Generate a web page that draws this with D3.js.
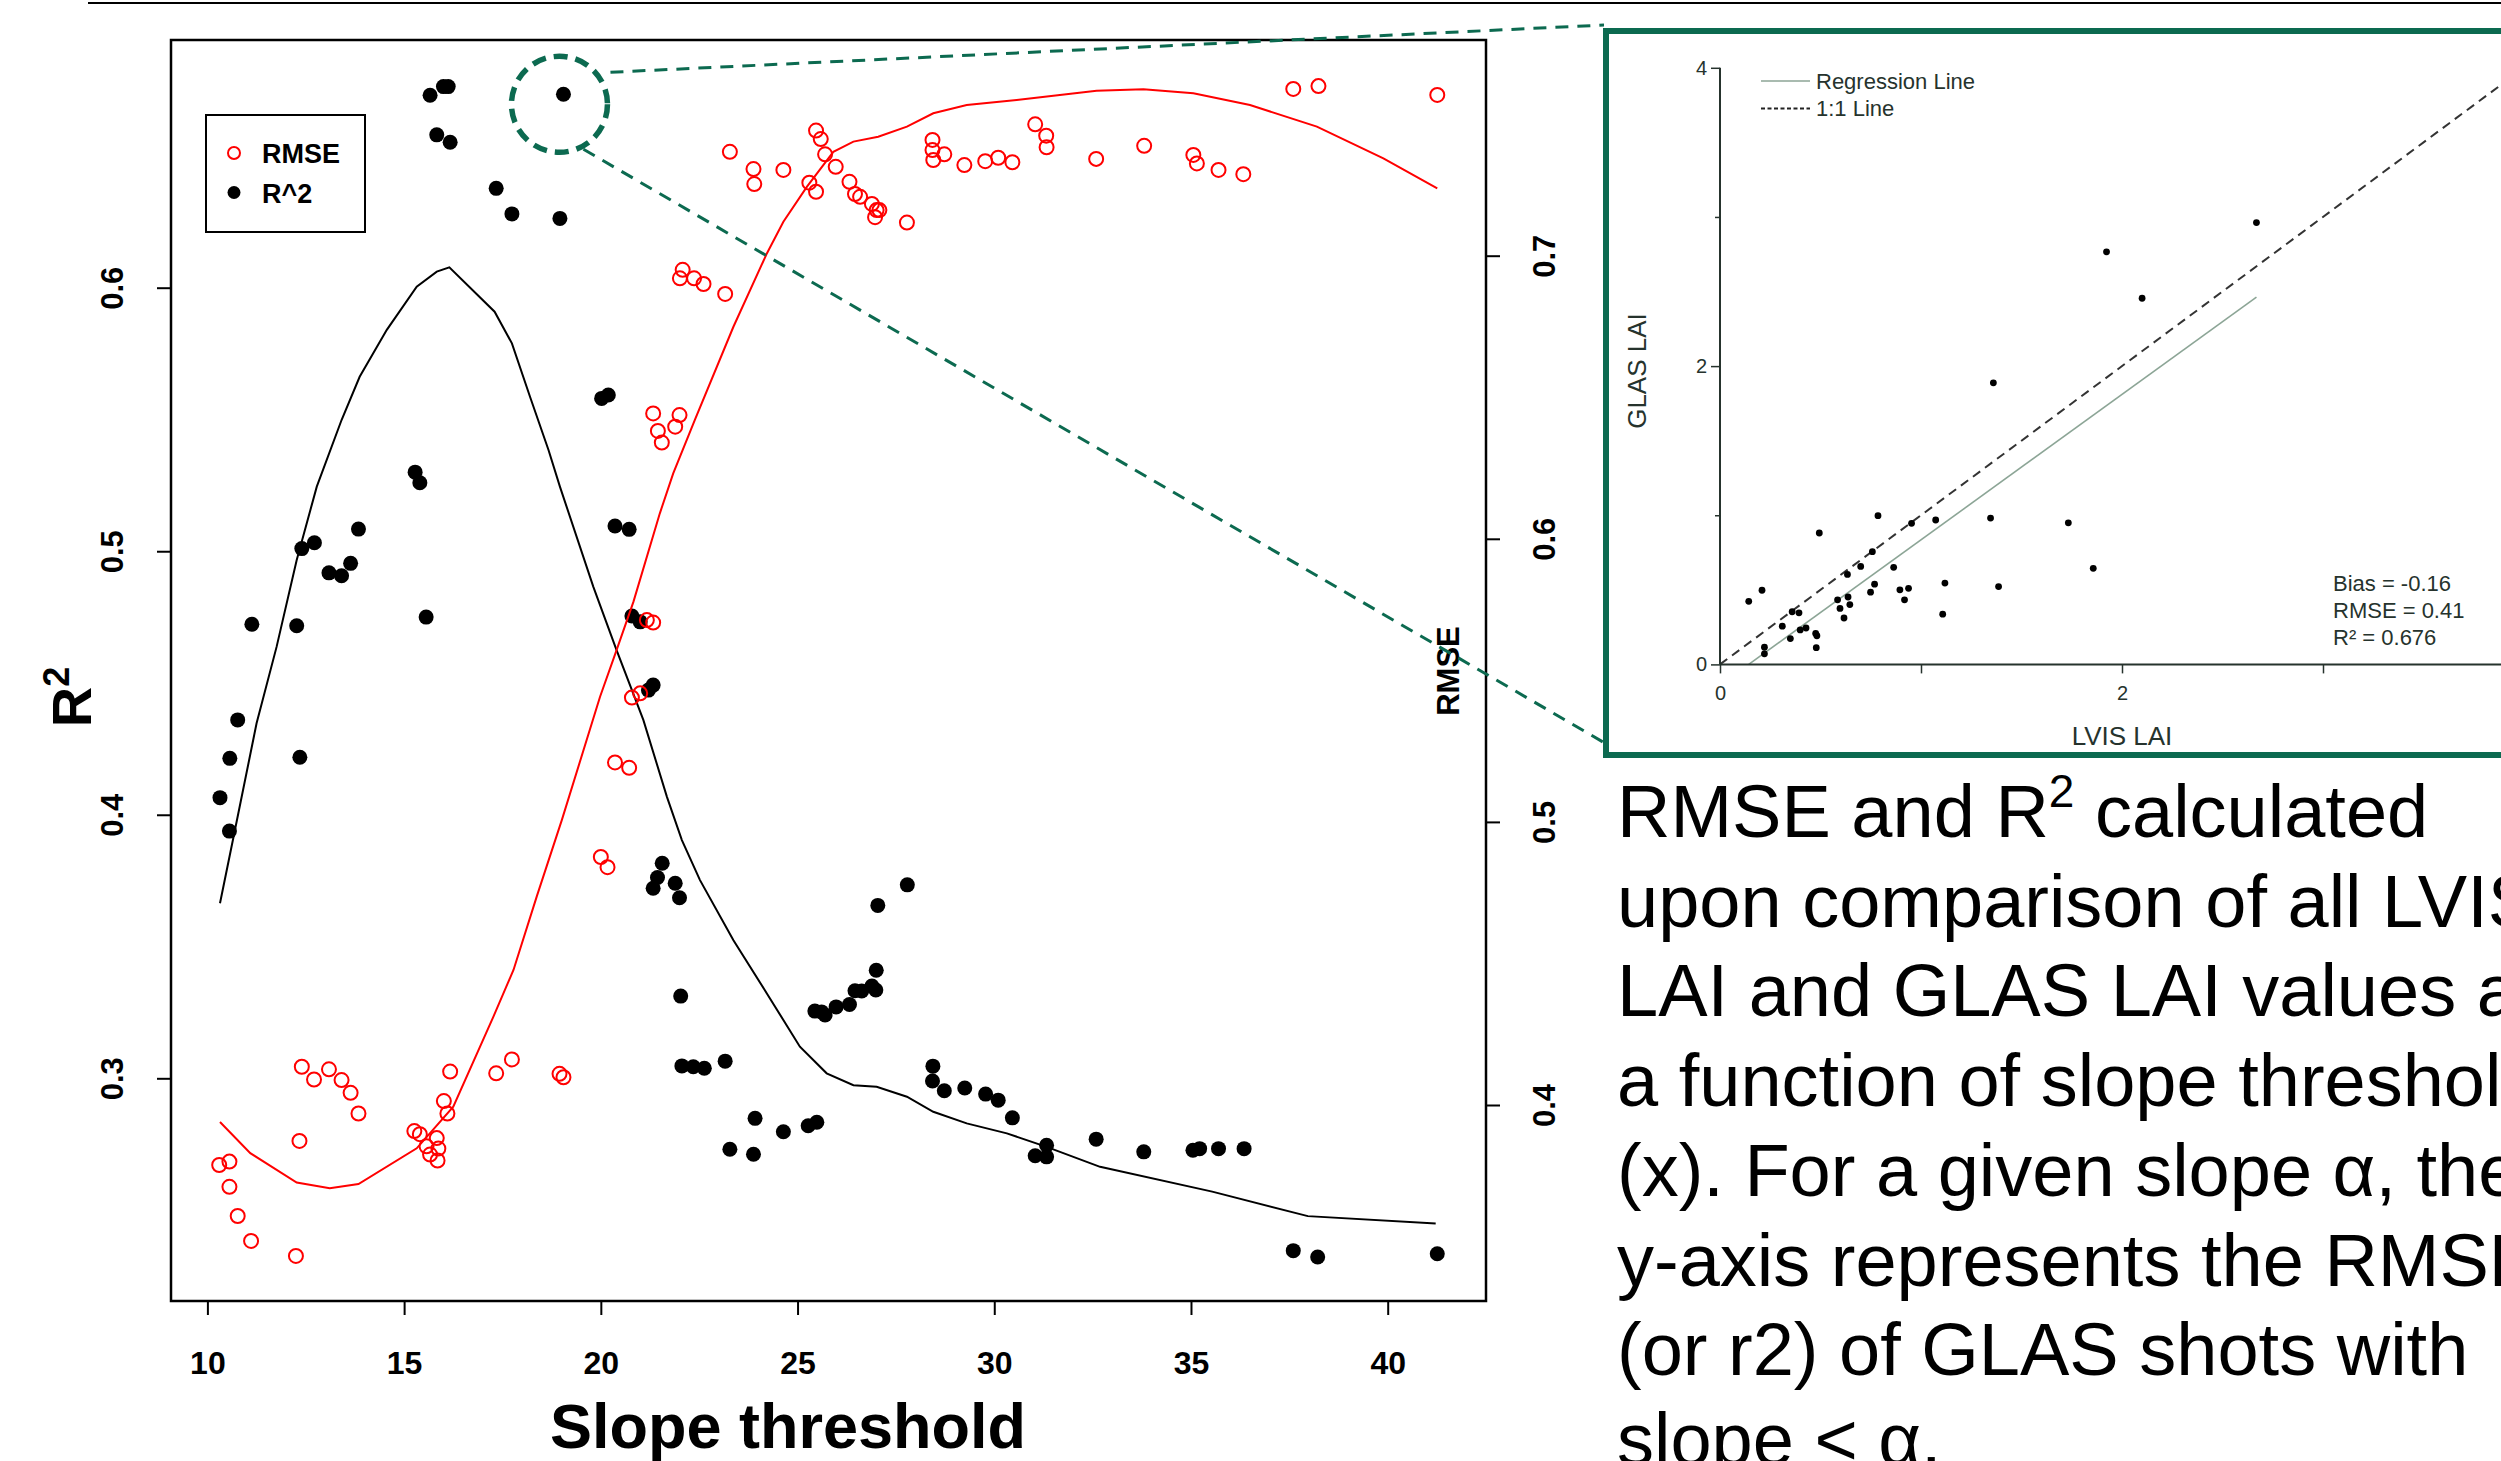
<!DOCTYPE html>
<html>
<head>
<meta charset="utf-8">
<script src="https://cdn.jsdelivr.net/npm/d3@7"></script>
<style>
  body { margin: 0; background: #fff; }
  svg { display: block; }
</style>
</head>
<body>
<svg id="chart"></svg>
<script>
// ---- data ----
const r2Points = [
  [10.32, 0.4065], [10.56, 0.3938], [10.57, 0.4214], [10.77, 0.436], [11.13, 0.4723],
  [12.27, 0.4717], [12.35, 0.4218], [12.40, 0.501], [12.72, 0.5032], [13.09, 0.4918],
  [13.41, 0.4907], [13.64, 0.4954], [13.84, 0.5084], [15.28, 0.530], [15.40, 0.526],
  [15.56, 0.475], [15.66, 0.673], [15.83, 0.658], [16.0, 0.6763], [16.12, 0.6763],
  [16.17, 0.6552], [17.34, 0.6377], [17.74, 0.628], [18.96, 0.6263], [19.05, 0.6734],
  [20.02, 0.558], [20.19, 0.5593], [20.36, 0.5096], [20.72, 0.5083], [20.79, 0.4754],
  [21.0, 0.4732], [21.21, 0.4473], [21.33, 0.4492], [21.33, 0.3721], [21.44, 0.3762],
  [21.56, 0.3816], [21.89, 0.374], [22.0, 0.3685], [22.03, 0.3312], [22.06, 0.3047],
  [22.35, 0.3044], [22.63, 0.3038], [23.16, 0.3065], [23.28, 0.2731], [23.88, 0.2712],
  [23.92, 0.2848], [24.64, 0.2797], [25.27, 0.282], [25.49, 0.2833], [25.44, 0.3255],
  [25.61, 0.3252], [25.7, 0.324], [25.98, 0.3271], [26.32, 0.328], [26.46, 0.3332],
  [26.63, 0.3331], [26.89, 0.335], [26.99, 0.3335], [27.0, 0.341], [27.04, 0.3656],
  [27.79, 0.3734], [28.44, 0.3046], [28.43, 0.299], [28.73, 0.2953], [29.25, 0.2963],
  [29.78, 0.294], [30.1, 0.2917], [30.46, 0.285], [31.04, 0.2706], [31.33, 0.2702],
  [31.33, 0.2746], [32.59, 0.2769], [33.8, 0.2721], [35.05, 0.2727], [35.22, 0.2733],
  [35.7, 0.2733], [36.35, 0.2733], [37.6, 0.2346], [38.22, 0.2322], [41.26, 0.2334]
];

const rmsePoints = [
  [10.30, 0.3788], [10.56, 0.380], [10.56, 0.3711], [10.77, 0.3608], [11.11, 0.352],
  [12.25, 0.3467], [12.34, 0.3873], [12.40, 0.4135], [12.71, 0.409], [13.09, 0.4126],
  [13.41, 0.4088], [13.64, 0.4043], [13.84, 0.397], [15.26, 0.3908], [15.40, 0.3897],
  [15.57, 0.3854], [15.66, 0.3825], [15.83, 0.3883], [15.85, 0.3804], [15.87, 0.3846],
  [16.01, 0.4014], [16.10, 0.397], [16.17, 0.4118], [17.34, 0.4112], [17.74, 0.4161],
  [18.95, 0.411], [19.05, 0.4098], [20.0, 0.4876], [20.17, 0.484], [20.36, 0.521],
  [20.72, 0.5191], [20.79, 0.5439], [21.0, 0.5454], [21.17, 0.5713], [21.33, 0.5704],
  [21.33, 0.6443], [21.45, 0.6381], [21.55, 0.634], [21.89, 0.6396], [22.0, 0.6437],
  [22.01, 0.692], [22.08, 0.695], [22.37, 0.692], [22.61, 0.690], [23.16, 0.6865],
  [23.28, 0.7367], [23.88, 0.7306], [23.9, 0.7253], [24.64, 0.7303], [25.3, 0.7258],
  [25.47, 0.7442], [25.47, 0.7226], [25.59, 0.7412], [25.7, 0.7358], [25.97, 0.7314],
  [26.32, 0.7261], [26.46, 0.7218], [26.59, 0.7208], [26.89, 0.7183], [26.97, 0.7136],
  [27.01, 0.7161], [27.08, 0.7161], [27.78, 0.7117], [28.43, 0.7409], [28.43, 0.7373],
  [28.45, 0.7338], [28.73, 0.7358], [29.24, 0.732], [29.77, 0.7334], [30.1, 0.7346],
  [30.46, 0.733], [31.04, 0.7464], [31.32, 0.7424], [31.33, 0.7383], [32.59, 0.7342],
  [33.81, 0.7388], [35.06, 0.7356], [35.15, 0.7326], [35.7, 0.7303], [36.33, 0.7288],
  [37.6, 0.7589], [38.24, 0.7599], [41.26, 0.7568]
];

const r2Curve = [
  [10.32, 0.3664], [10.7, 0.3942], [11.25, 0.4347], [11.76, 0.4638], [12.27, 0.4967],
  [12.78, 0.5245], [13.41, 0.5498], [13.87, 0.5662], [14.56, 0.584], [15.32, 0.6004],
  [15.83, 0.6061], [16.15, 0.6077], [17.3, 0.5909], [17.74, 0.5789], [18.2, 0.5586],
  [18.67, 0.5384], [18.96, 0.5245], [19.81, 0.4865], [20.4, 0.4625], [21.08, 0.436],
  [21.68, 0.4068], [22.06, 0.3904], [22.52, 0.3752], [23.37, 0.3524], [24.22, 0.3322],
  [25.06, 0.312], [25.74, 0.3019], [26.42, 0.2974], [27.01, 0.2968], [27.78, 0.293],
  [28.45, 0.2873], [29.3, 0.2829], [30.32, 0.2791], [31.33, 0.274], [32.69, 0.2664],
  [35.54, 0.257], [37.97, 0.2477], [41.22, 0.2449]
];

const rmseCurve = [
  [10.32, 0.394], [11.09, 0.383], [12.27, 0.3726], [13.11, 0.3706], [13.84, 0.3721],
  [15.32, 0.3847], [16.25, 0.3994], [17.27, 0.4312], [17.78, 0.4477], [18.37, 0.4736],
  [19.01, 0.5007], [19.98, 0.5442], [20.4, 0.5607], [20.83, 0.5778], [21.5, 0.609],
  [21.84, 0.6231], [22.39, 0.642], [23.37, 0.6749], [24.22, 0.7008], [24.64, 0.712],
  [25.24, 0.7244], [25.91, 0.7367], [26.42, 0.7403], [27.05, 0.742], [27.78, 0.7456],
  [28.45, 0.7503], [29.3, 0.7532], [30.57, 0.755], [32.6, 0.7583], [33.79, 0.7588],
  [35.06, 0.7574], [36.5, 0.7532], [38.2, 0.7456], [39.89, 0.7344], [41.26, 0.7238]
];

const xTicks = [10, 15, 20, 25, 30, 35, 40];
const r2Ticks = [0.3, 0.4, 0.5, 0.6];
const rmseTicks = [0.4, 0.5, 0.6, 0.7];
const legendItems = ["RMSE", "R^2"];
const highlighted = [19.05, 0.6734];

// inset: LVIS LAI vs GLAS LAI
const insetPoints = [
  [2.669, 2.962], [1.923, 2.766], [2.100, 2.455], [1.360, 1.888], [0.786, 0.997],
  [0.494, 0.881], [0.953, 0.946], [1.073, 0.968], [1.346, 0.981], [1.733, 0.949],
  [1.857, 0.644], [0.758, 0.756], [0.700, 0.657], [0.864, 0.651], [0.634, 0.603],
  [0.769, 0.538], [0.749, 0.484], [0.895, 0.500], [0.938, 0.510], [0.918, 0.433],
  [1.119, 0.545], [1.386, 0.522], [1.108, 0.337], [0.209, 0.497], [0.143, 0.423],
  [0.585, 0.433], [0.637, 0.452], [0.646, 0.401], [0.597, 0.375], [0.617, 0.311],
  [0.359, 0.353], [0.393, 0.346], [0.310, 0.256], [0.399, 0.231], [0.428, 0.244],
  [0.476, 0.208], [0.482, 0.192], [0.350, 0.173], [0.479, 0.112], [0.221, 0.115],
  [0.221, 0.071]
];
const regressionLine = [[0.143, 0], [2.669, 2.462]];
const oneToOne = [[0, 0], [4, 4]];
const insetXTicks = [0, 1, 2, 3];
const insetYTicks = [0, 1, 2, 3, 4];
const insetStats = ["Bias = -0.16", "RMSE = 0.41", "R² = 0.676"];
const insetLegend = ["Regression Line", "1:1 Line"];

const captionLines = [
  "RMSE and R",
  "upon comparison of all LVIS",
  "LAI and GLAS LAI values as",
  "a function of slope threshold",
  "(x). For a given slope α, the",
  "y-axis represents the RMSE",
  "(or r2) of GLAS shots with",
  "slope < α."
];

// ---- layout ----
const W = 2501, H = 1461;
const FONT = "'Liberation Sans', Arial, Helvetica, sans-serif";
const GREEN = "#0c6a50";
const plot = { left: 171, top: 40, right: 1486, bottom: 1301 };

const svg = d3.select("#chart")
  .attr("width", W)
  .attr("height", H)
  .style("font-family", FONT);

svg.append("rect").attr("width", W).attr("height", H).attr("fill", "#fff");

// thin rule at the very top
svg.append("line")
  .attr("x1", 88).attr("x2", W).attr("y1", 3).attr("y2", 3)
  .attr("stroke", "#000").attr("stroke-width", 2);

const x = d3.scaleLinear().domain([10, 40]).range([207.4, 1387.7]);
const yR2 = d3.scaleLinear().domain([0.3, 0.6]).range([1078.3, 287.7]);
const yRmse = d3.scaleLinear().domain([0.4, 0.7]).range([1105, 255.7]);

// R^2 points + smooth
svg.append("g").selectAll("circle")
  .data(r2Points)
  .enter().append("circle")
  .attr("cx", d => x(d[0]))
  .attr("cy", d => yR2(d[1]))
  .attr("r", 7.5)
  .attr("fill", "#000");

svg.append("path")
  .datum(r2Curve)
  .attr("d", d3.line().x(d => x(d[0])).y(d => yR2(d[1])))
  .attr("fill", "none")
  .attr("stroke", "#000")
  .attr("stroke-width", 2);

// RMSE points + smooth
svg.append("g").selectAll("circle")
  .data(rmsePoints)
  .enter().append("circle")
  .attr("cx", d => x(d[0]))
  .attr("cy", d => yRmse(d[1]))
  .attr("r", 7)
  .attr("fill", "none")
  .attr("stroke", "#ff0000")
  .attr("stroke-width", 2);

svg.append("path")
  .datum(rmseCurve)
  .attr("d", d3.line().x(d => x(d[0])).y(d => yRmse(d[1])))
  .attr("fill", "none")
  .attr("stroke", "#ff0000")
  .attr("stroke-width", 2);

// plot box
svg.append("rect")
  .attr("x", plot.left).attr("y", plot.top)
  .attr("width", plot.right - plot.left)
  .attr("height", plot.bottom - plot.top)
  .attr("fill", "none")
  .attr("stroke", "#000")
  .attr("stroke-width", 2.5);

// axes
function styleAxis(g, size) {
  g.attr("font-family", FONT).attr("font-size", size).attr("font-weight", "bold");
  g.select(".domain").remove();
  g.selectAll(".tick line").attr("stroke-width", 2);
  g.selectAll(".tick text").attr("fill", "#000");
}

const gx = svg.append("g")
  .attr("transform", `translate(0,${plot.bottom})`)
  .call(d3.axisBottom(x).tickValues(xTicks).tickSize(14).tickPadding(36));
styleAxis(gx, 32);

const gl = svg.append("g")
  .attr("transform", `translate(${plot.left},0)`)
  .call(d3.axisLeft(yR2).tickValues(r2Ticks).tickSize(14).tickFormat(d3.format(".1f")));
styleAxis(gl, 31);
gl.selectAll(".tick text")
  .attr("x", 0).attr("y", -59).attr("dy", "0.35em")
  .attr("transform", "rotate(-90)")
  .attr("text-anchor", "middle");

const gr = svg.append("g")
  .attr("transform", `translate(${plot.right},0)`)
  .call(d3.axisRight(yRmse).tickValues(rmseTicks).tickSize(14).tickFormat(d3.format(".1f")));
styleAxis(gr, 31);
gr.selectAll(".tick text")
  .attr("x", 0).attr("y", 58).attr("dy", "0.35em")
  .attr("transform", "rotate(-90)")
  .attr("text-anchor", "middle");

// axis titles
svg.append("text")
  .attr("x", 788).attr("y", 1448)
  .attr("text-anchor", "middle")
  .attr("font-size", 63).attr("font-weight", "bold")
  .text("Slope threshold");

const r2Title = svg.append("text")
  .attr("transform", "translate(91,697) rotate(-90)")
  .attr("text-anchor", "middle")
  .attr("font-size", 56).attr("font-weight", "bold");
r2Title.append("tspan").text("R");
r2Title.append("tspan").attr("font-size", 36).attr("dy", -22).text("2");

svg.append("text")
  .attr("transform", "translate(1459,671) rotate(-90)")
  .attr("text-anchor", "middle")
  .attr("font-size", 31).attr("font-weight", "bold")
  .text("RMSE");

// legend
const leg = svg.append("g");
leg.append("rect")
  .attr("x", 206).attr("y", 115).attr("width", 159).attr("height", 117)
  .attr("fill", "#fff").attr("stroke", "#000").attr("stroke-width", 2);
leg.selectAll("circle")
  .data(legendItems)
  .enter().append("circle")
  .attr("cx", 234)
  .attr("cy", (d, i) => 153 + i * 39.5)
  .attr("r", (d, i) => i === 0 ? 6 : 6.5)
  .attr("fill", (d, i) => i === 0 ? "none" : "#000")
  .attr("stroke", (d, i) => i === 0 ? "#ff0000" : "none")
  .attr("stroke-width", 2);
leg.selectAll("text")
  .data(legendItems)
  .enter().append("text")
  .attr("x", 262)
  .attr("y", (d, i) => 163 + i * 39.5)
  .attr("font-size", 27).attr("font-weight", "bold")
  .text(d => d);

// green highlight and connectors
const hx = x(highlighted[0]) - 4, hy = yR2(highlighted[1]) + 10;
svg.append("circle")
  .attr("cx", hx).attr("cy", hy).attr("r", 48)
  .attr("fill", "none").attr("stroke", GREEN)
  .attr("stroke-width", 5.5).attr("stroke-dasharray", "14 8");
svg.append("line")
  .attr("x1", hx + 51).attr("y1", hy - 32).attr("x2", 1604).attr("y2", 25)
  .attr("stroke", GREEN).attr("stroke-width", 3).attr("stroke-dasharray", "13 9");
svg.append("line")
  .attr("x1", hx + 24).attr("y1", hy + 45).attr("x2", 1603).attr("y2", 742)
  .attr("stroke", GREEN).attr("stroke-width", 3).attr("stroke-dasharray", "13 9");

// ---- inset ----
const inset = svg.append("g");
inset.append("rect")
  .attr("x", 1606).attr("y", 31).attr("width", 1000).attr("height", 724)
  .attr("fill", "#fff").attr("stroke", GREEN).attr("stroke-width", 6);

const xi = d3.scaleLinear().domain([0, 2]).range([1720, 2122]);
const yi = d3.scaleLinear().domain([0, 4]).range([664.4, 67.8]);
const INK = "#26332d";

inset.append("path")
  .datum(oneToOne)
  .attr("d", d3.line().x(d => xi(d[0])).y(d => yi(d[1])))
  .attr("stroke", "#333").attr("stroke-width", 2).attr("stroke-dasharray", "9 6");
inset.append("path")
  .datum(regressionLine)
  .attr("d", d3.line().x(d => xi(d[0])).y(d => yi(d[1])))
  .attr("stroke", "#8ca596").attr("stroke-width", 1.6);

inset.append("g").selectAll("circle")
  .data(insetPoints)
  .enter().append("circle")
  .attr("cx", d => xi(d[0]))
  .attr("cy", d => yi(d[1]))
  .attr("r", 3.4)
  .attr("fill", "#000");

const gix = inset.append("g")
  .attr("transform", `translate(0,${yi(0)})`)
  .call(d3.axisBottom(xi).tickValues(insetXTicks).tickSize(9).tickPadding(12)
    .tickFormat(d => d % 2 === 0 ? d : ""));
gix.select(".domain").attr("d", `M${xi(0)},0H${W}`).attr("stroke", INK).attr("stroke-width", 2);
gix.attr("font-family", FONT).attr("font-size", 20);
gix.selectAll(".tick line").attr("stroke", INK).attr("stroke-width", 1.5);
gix.selectAll(".tick text").attr("fill", INK);

const giy = inset.append("g")
  .attr("transform", `translate(${xi(0)},0)`)
  .call(d3.axisLeft(yi).tickValues(insetYTicks).tickSize(9).tickPadding(4)
    .tickFormat(d => d % 2 === 0 ? d : ""));
giy.select(".domain").attr("d", `M0,${yi(4)}V${yi(0)}`).attr("stroke", INK).attr("stroke-width", 2);
giy.attr("font-family", FONT).attr("font-size", 20);
giy.selectAll(".tick line").attr("stroke", INK).attr("stroke-width", 1.5)
  .attr("x2", d => d % 2 === 0 ? -9 : -5);
giy.selectAll(".tick text").attr("fill", INK);

inset.append("text")
  .attr("x", xi(2)).attr("y", 745)
  .attr("text-anchor", "middle").attr("font-size", 26).attr("fill", INK)
  .text("LVIS LAI");
inset.append("text")
  .attr("transform", "translate(1646,371) rotate(-90)")
  .attr("text-anchor", "middle").attr("font-size", 26).attr("fill", INK)
  .text("GLAS LAI");

// inset legend
insetLegend.forEach((label, i) => {
  const ly = 81 + i * 27.5;
  inset.append("line")
    .attr("x1", 1761).attr("x2", 1810).attr("y1", ly).attr("y2", ly)
    .attr("stroke", i === 0 ? "#8ca596" : "#222")
    .attr("stroke-width", i === 0 ? 1.6 : 2)
    .attr("stroke-dasharray", i === 0 ? null : "4 2.5");
  inset.append("text")
    .attr("x", 1816).attr("y", ly + 7.5)
    .attr("font-size", 22).attr("fill", INK)
    .text(label);
});

insetStats.forEach((s, i) => {
  inset.append("text")
    .attr("x", 2333).attr("y", 591 + i * 27)
    .attr("font-size", 22).attr("fill", INK)
    .text(s);
});

// ---- caption ----
const cap = svg.append("g").attr("font-size", 74).attr("fill", "#000");
captionLines.forEach((line, i) => {
  const t = cap.append("text")
    .attr("x", 1617)
    .attr("y", 837 + i * 89.7);
  t.append("tspan").text(line);
  if (i === 0) {
    t.append("tspan").attr("font-size", 46).attr("dy", -30).text("2");
    t.append("tspan").attr("dy", 30).text(" calculated");
  }
});
</script>
</body>
</html>
